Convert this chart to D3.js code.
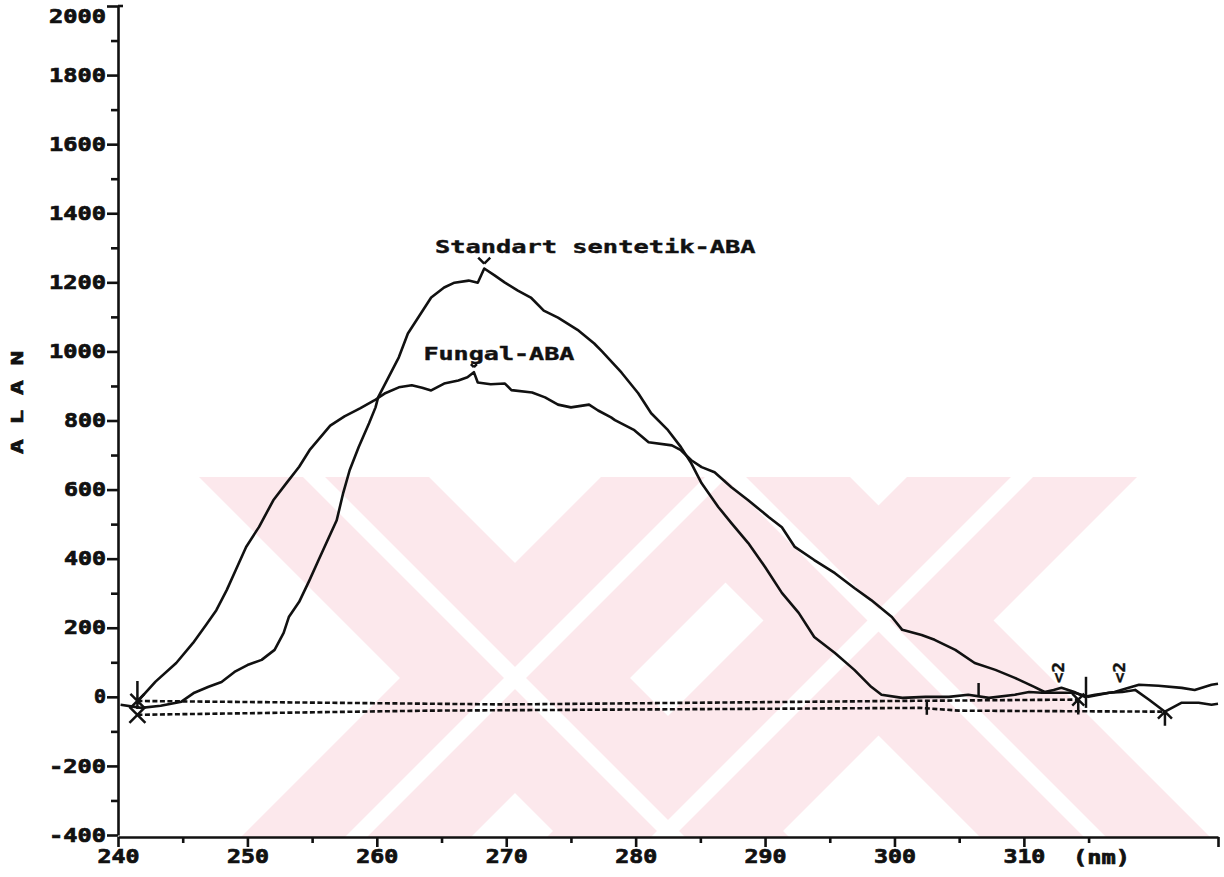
<!DOCTYPE html>
<html>
<head>
<meta charset="utf-8">
<script src="https://cdn.jsdelivr.net/npm/d3@7"></script>
<style>
  body { margin: 0; background: #fff; }
  svg text { font-family: "DejaVu Sans Mono", monospace; font-weight: bold; fill: #111; }
</style>
</head>
<body>
<script>
/** Page size. */
const WIDTH = 1224;
const HEIGHT = 877;

/** Plot frame in pixels. */
const LEFT = 118;
const RIGHT = 1218;
const BOTTOM = 835;
const TOP = 6;

const INK = "#111";
const PINK = "#fce8ec";

/** Width of one printer character cell. */
const CELL = 15;

// Axis ticks
const yLabels = [-400, -200, 0, 200, 400, 600, 800, 1000, 1200, 1400, 1600, 1800, 2000];
const yMinor = [-300, -100, 100, 300, 500, 700, 900, 1100, 1300, 1500, 1700, 1900];
const xLabels = [240, 250, 260, 270, 280, 290, 300, 310];
const xMinor = [245, 255, 265, 275, 285, 295, 305, 315];
const xEnd = [325];

// Spectrum: standard synthetic ABA [nm, value]
const standartABA = [
  [240.2, -23], [241.8, -32], [243.3, -26], [244.9, -14], [245.9, 12], [247.0, 29],
  [248.0, 43], [249.0, 72], [250.0, 92], [251.1, 107], [252.1, 136], [252.8, 185],
  [253.2, 231], [254.0, 275], [254.8, 338], [255.5, 396], [256.3, 462], [256.9, 511],
  [257.4, 590], [257.9, 656], [258.6, 723], [259.4, 792], [259.9, 838], [260.1, 867],
  [260.9, 925], [261.7, 983], [262.4, 1052], [263.2, 1098], [264.2, 1156], [265.2, 1185],
  [266.0, 1199], [267.1, 1205], [267.8, 1199], [268.3, 1240], [269.1, 1220], [269.9, 1199],
  [270.9, 1176], [271.9, 1156], [272.9, 1118], [274.0, 1098], [275.6, 1060], [276.8, 1023],
  [277.4, 1000], [277.9, 980], [278.9, 939], [280.2, 879], [281.2, 821], [282.5, 772],
  [283.5, 723], [284.3, 676], [285.1, 618], [286.4, 549], [287.4, 503], [288.7, 445],
  [290.0, 376], [291.3, 301], [292.6, 243], [293.8, 173], [295.4, 127], [296.9, 78],
  [298.2, 29], [299.0, 6], [300.6, -3], [302.4, 0], [304.2, 0], [305.7, 6], [307.3, -3],
  [309.3, 6], [310.4, 14], [311.4, 12], [313.9, 12], [315.0, 0], [316.6, 12], [317.6, 14],
  [318.6, 20], [319.7, -9], [320.9, -43], [322.2, -17], [323.5, -17], [324.5, -23], [325.0, -20]
];

// Spectrum: fungal ABA [nm, value]
const fungalABA = [
  [241.5, -14], [242.9, 44], [244.5, 98], [245.8, 156], [246.8, 208], [247.6, 251],
  [248.4, 309], [249.1, 367], [249.9, 434], [250.9, 492], [252.0, 569], [253.0, 618],
  [254.0, 666], [254.8, 714], [256.4, 785], [257.5, 812], [258.7, 835], [259.8, 858],
  [260.6, 878], [261.7, 896], [262.7, 902], [263.5, 895], [264.2, 887], [265.2, 907],
  [266.3, 916], [267.0, 925], [267.5, 940], [267.8, 910], [268.8, 905], [269.9, 907],
  [270.4, 888], [272.0, 881], [273.0, 867], [274.0, 846], [275.0, 838], [276.4, 846],
  [277.1, 829], [278.1, 809], [278.4, 801], [279.9, 772], [281.0, 737], [282.8, 728],
  [283.5, 714], [284.3, 685], [285.1, 665], [286.1, 650], [287.4, 607], [288.7, 569],
  [290.3, 520], [291.3, 491], [292.3, 434], [293.8, 396], [295.4, 358], [296.9, 315],
  [298.2, 280], [299.8, 231], [300.6, 194], [302.1, 179], [303.1, 165], [304.7, 136],
  [306.2, 98], [307.8, 78], [309.3, 55], [310.8, 29], [311.6, 14], [312.3, 20], [312.9, 26],
  [313.9, 14], [314.7, 0], [315.5, 6], [317.0, 14], [318.1, 26], [318.9, 35], [320.4, 32],
  [322.2, 26], [323.2, 20], [324.5, 35], [325.0, 38]
];

// Integration baselines [nm, value]
const fungalBase = [[241.5, -12], [270, -22], [300, -12], [314.2, -8]];
const standartBase = [[241.5, -52], [264, -40], [302, -32], [305, -40], [320.9, -43]];

// Peak ticks, cut lines and notes
const peaks = [
  { nm: 268.3, v: 1240, size: 6 },
  { nm: 267.5, v: 940, size: 3 }
];
const cutLines = [[302.5, -9, -52], [306.5, 40, 0], [314.8, 58, -32]];
const notes = [
  { text: "Standart sentetik-ABA", nm: 264.5, v: 1285 },
  { text: "Fungal-ABA", nm: 263.6, v: 975 }
];
const limitNotes = [[312.7, 40], [317.4, 40]];

const x = d3.scaleLinear().domain([240, 325]).range([LEFT, RIGHT]);
const y = d3.scaleLinear().domain([-400, 2000]).range([BOTTOM, TOP]);

let svg = d3.select("body").append("svg")
    .attr("width", WIDTH)
    .attr("height", HEIGHT);

/** Stretch text so each character fills a printer cell. */
const printer = (sel, size, cell, heavy) => sel
    .style("font-size", size + "px")
    .attr("stroke", INK)
    .attr("stroke-width", heavy)
    .each(function () {
        const n = this.textContent.length;
        d3.select(this)
            .attr("textLength", n * cell - 3)
            .attr("lengthAdjust", "spacingAndGlyphs");
    });

// Pale watermark behind the plot
const wm = svg.append("g");
const WM_TOP = 477, WM_BOT = 837;
const band = (dir, c0, c1) => dir === "\\"
    ? [[c0 + WM_TOP, WM_TOP], [c1 + WM_TOP, WM_TOP], [c1 + WM_BOT, WM_BOT], [c0 + WM_BOT, WM_BOT]]
    : [[c0 - WM_TOP, WM_TOP], [c1 - WM_TOP, WM_TOP], [c1 - WM_BOT, WM_BOT], [c0 - WM_BOT, WM_BOT]];
const wmBands = [["\\", -278, -48], ["/", 1078, 1308], ["\\", 143, 373], ["/", 1384, 1614]];
wmBands.forEach(([dir, c0, c1]) => {
    wm.append("polygon").attr("points", band(dir, c0, c1).join(" ")).attr("fill", PINK);
});
wmBands.forEach(([dir, c0, c1]) => {
    const m = (c0 + c1) / 2;
    wm.append("polygon").attr("points", band(dir, m - 11, m + 11).join(" ")).attr("fill", "#fff");
});

const styleAxis = (g) => {
    g.selectAll("path, line").attr("stroke", INK).attr("stroke-width", 2.6);
    g.selectAll("text").attr("fill", INK).call(printer, 19, CELL, 0.7);
};

// Y axis
svg.append("g")
    .attr("transform", `translate(${LEFT},0)`)
    .call(d3.axisLeft(y).tickValues(yLabels).tickSize(11).tickSizeOuter(0)
        .tickPadding(1).tickFormat(d => String(d)))
    .call(styleAxis)
    .call(g => g.selectAll(".tick text").filter(d => d === 2000).attr("dy", "0.85em"));
svg.append("g")
    .attr("transform", `translate(${LEFT},0)`)
    .call(d3.axisLeft(y).tickValues(yMinor).tickSize(7).tickFormat(""))
    .call(g => g.select(".domain").remove())
    .call(styleAxis);
svg.append("line")
    .attr("x1", LEFT).attr("x2", LEFT + 5)
    .attr("y1", y(2000)).attr("y2", y(2000))
    .attr("stroke", INK).attr("stroke-width", 2.6);

// X axis
svg.append("g")
    .attr("transform", `translate(0,${BOTTOM + 2})`)
    .call(d3.axisBottom(x).tickValues(xLabels).tickSize(10).tickSizeOuter(0)
        .tickPadding(3).tickFormat(d => String(d)))
    .call(styleAxis);
svg.append("g")
    .attr("transform", `translate(0,${BOTTOM + 2})`)
    .call(d3.axisBottom(x).tickValues(xMinor).tickSize(6).tickFormat(""))
    .call(g => g.select(".domain").remove())
    .call(styleAxis);
svg.append("g")
    .attr("transform", `translate(0,${BOTTOM + 2})`)
    .call(d3.axisBottom(x).tickValues(xEnd).tickSize(10).tickFormat(""))
    .call(g => g.select(".domain").remove())
    .call(styleAxis);

svg.append("text")
    .attr("x", 1073)
    .attr("y", 864)
    .text("(nm)")
    .call(printer, 19, CELL, 0.7);

// Y title, letters stacked upward
svg.append("text")
    .attr("transform", "translate(23,454) rotate(-90)")
    .text("A L A N")
    .call(printer, 15, 15.2, 0.6);

// Baselines
const line = d3.line().x(d => x(d[0])).y(d => y(d[1]));
[fungalBase, standartBase].forEach(b => {
    svg.append("path")
        .attr("d", line(b))
        .attr("fill", "none")
        .attr("stroke", INK)
        .attr("stroke-width", 2.6)
        .attr("stroke-dasharray", "5,2.5");
});

// Spectra
[standartABA, fungalABA].forEach(s => {
    svg.append("path")
        .attr("d", line(s))
        .attr("fill", "none")
        .attr("stroke", INK)
        .attr("stroke-width", 2.6)
        .attr("stroke-linejoin", "round");
});

// Start and end marks of the baselines
const mark = (px, py, parts) => svg.append("path")
    .attr("d", parts.map(p => `M${px + p[0]},${py + p[1]}L${px + p[2]},${py + p[3]}`).join(""))
    .attr("fill", "none")
    .attr("stroke", INK)
    .attr("stroke-width", 2.5);

const fs = fungalBase[0], fe = fungalBase[fungalBase.length - 1];
const ss = standartBase[0], se = standartBase[standartBase.length - 1];
mark(x(fs[0]), y(fs[1]), [[0, -20, 0, 8], [-7, -7, 7, 7], [-7, 7, 7, -7]]);
mark(x(ss[0]), y(ss[1]), [[-8, -8, 8, 8], [-8, 8, 8, -8]]);
mark(x(fe[0]), y(fe[1]), [[0, 0, 0, 15], [-6, -6, 6, 6], [-6, 6, 6, -6]]);
mark(x(se[0]), y(se[1]), [[0, 0, 0, 14], [-7, 7, 0, 0], [0, 0, 7, 7]]);

cutLines.forEach(([nm, a, b]) => {
    svg.append("line")
        .attr("x1", x(nm)).attr("x2", x(nm))
        .attr("y1", y(a)).attr("y2", y(b))
        .attr("stroke", INK)
        .attr("stroke-width", 2.5);
});

// Peak ticks
peaks.forEach(p => {
    const px = x(p.nm), py = y(p.v);
    mark(px, py, [[-p.size, -p.size - 5, 0, -5], [0, -5, p.size, -p.size - 5]]);
});

// Notes
notes.forEach(n => {
    svg.append("text")
        .attr("x", x(n.nm))
        .attr("y", y(n.v))
        .text(n.text)
        .call(printer, 18, 15.4, 0.4);
});
limitNotes.forEach(([nm, v]) => {
    svg.append("text")
        .attr("transform", `translate(${x(nm)},${y(v)}) rotate(-90)`)
        .attr("dy", "0.35em")
        .text("<2")
        .call(printer, 15, 12, 0.4);
});
</script>
</body>
</html>
